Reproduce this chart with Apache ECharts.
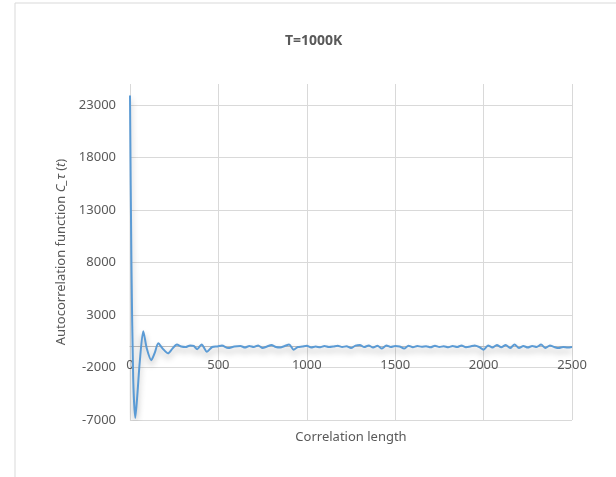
<!DOCTYPE html>
<html>
<head>
<meta charset="utf-8">
<script src="https://cdn.jsdelivr.net/npm/echarts@6/dist/echarts.min.js"></script>
<style>
  html, body { margin: 0; padding: 0; background: #fff; }
  #chart { width: 616px; height: 477px; }
</style>
</head>
<body>
<div id="chart"></div>
<script>
// lag (correlation length) and autocorrelation values
var lagX = [0, 8, 18, 30, 42, 55, 75, 95, 120, 140, 160, 185, 215, 240, 265, 290, 315, 340, 360, 380, 405, 435, 465, 495, 520, 555, 590, 625,
    650, 675, 700, 725, 750, 775, 800, 825, 850, 875, 900, 925, 950, 975, 1000, 1025, 1050, 1075, 1100, 1125, 1150, 1175, 1200, 1225,
    1250, 1275, 1300, 1325, 1350, 1375, 1400, 1425, 1450, 1475, 1500, 1525, 1550, 1575, 1600, 1625, 1650, 1675, 1700, 1725, 1750, 1775,
    1800, 1825, 1850, 1875, 1900, 1925, 1950, 1975, 2000, 2025, 2050, 2075, 2100, 2125, 2150, 2175, 2200, 2225, 2250, 2275, 2300, 2325,
    2350, 2375, 2400, 2425, 2450, 2475, 2500];
var acfY = [23900, 8000, -3000, -6800, -4500, -1500, 1450, -200, -1300, -600, 300, -200, -650, -200, 200, 0, -50, 100, 50, -250, 200, -500, -50, 0, 100, -150, 0, 50,
    -100, 50, -50, 100, -150, 0, 150, -50, -100, 50, 200, -300, -50, 0, 80, -100, 0, -80, 50, -50, 0, 80, -50, 30,
    -150, 80, 150, -50, 100, -100, 80, -200, 100, -50, 50, 0, -200, 80, -80, 50, -30, 30, -80, 80, -50, 30,
    -80, 50, -50, 100, -60, 0, 100, -50, -300, 100, -100, 150, -80, 150, -150, 200, -150, 50, -100, 50, -50, 180,
    -150, 100, -50, -150, -50, -100, -50];

// axis settings
var xMin = 0, xMax = 2500, xStep = 500;
var yMin = -7000, yMax = 25000, yStep = 5000;

var points = [];
for (var i = 0; i < lagX.length; i++) {
    points.push([lagX[i], acfY[i]]);
}

var chart = echarts.init(document.getElementById('chart'));
var option = {
    backgroundColor: '#fff',
    textStyle: { fontFamily: 'Noto Sans' },
    animation: false,
    title: {
        text: 'T=1000K',
        left: 280,
        top: 29,
        textStyle: { fontSize: 14, fontWeight: 'bold', color: '#595959', fontFamily: 'Noto Sans' }
    },
    graphic: [{
        type: 'rect',
        shape: { x: 15, y: 3, width: 640, height: 520 },
        style: { fill: 'none', stroke: '#d9d9d9', lineWidth: 1 },
        silent: true
    }],
    grid: {
        left: 130,
        right: 44,
        top: 84,
        bottom: 57,
        outerBoundsMode: 'none'
    },
    xAxis: {
        type: 'value',
        min: xMin,
        max: xMax,
        interval: xStep,
        name: 'Correlation length',
        nameLocation: 'middle',
        nameGap: 84,
        nameTextStyle: { color: '#595959', fontSize: 13 },
        axisLine: { show: true, onZero: false, lineStyle: { color: '#bfbfbf', width: 1 } },
        axisTick: { show: false },
        axisLabel: {
            color: '#595959', fontSize: 13, margin: 12,
            formatter: function (v) { return String(v); }
        },
        splitLine: { show: true, lineStyle: { color: '#d9d9d9', width: 1 } }
    },
    yAxis: {
        type: 'value',
        min: yMin,
        max: yMax,
        interval: yStep,
        name: 'Autocorrelation function {i|C_τ} ({i|t})',
        nameLocation: 'middle',
        nameGap: 61,
        nameTextStyle: {
            color: '#595959',
            fontSize: 13,
            rich: { i: { fontStyle: 'italic', color: '#595959', fontSize: 13 } }
        },
        axisLine: { show: false, onZero: false },
        axisTick: { show: false },
        axisLabel: {
            color: '#595959', fontSize: 13, margin: 14, showMaxLabel: false,
            formatter: function (v) { return String(v); }
        },
        splitLine: { show: true, showMaxLine: false, lineStyle: { color: '#d9d9d9', width: 1 } }
    },
    series: [{
        type: 'line',
        data: points,
        showSymbol: false,
        smooth: 0.25,
        lineStyle: {
            color: '#5b9bd5',
            width: 2,
            shadowColor: 'rgba(0,0,0,0.3)',
            shadowBlur: 6,
            shadowOffsetY: 4
        },
        itemStyle: { color: '#5b9bd5' }
    }]
};
chart.setOption(option);

// move the x axis up so it crosses the y axis at 0, as in the original
var zeroY = chart.convertToPixel({ yAxisIndex: 0 }, 0);
var bottomY = chart.convertToPixel({ yAxisIndex: 0 }, yMin);
chart.setOption({ xAxis: { offset: zeroY - bottomY } });

window.addEventListener('resize', chart.resize);
</script>
</body>
</html>
